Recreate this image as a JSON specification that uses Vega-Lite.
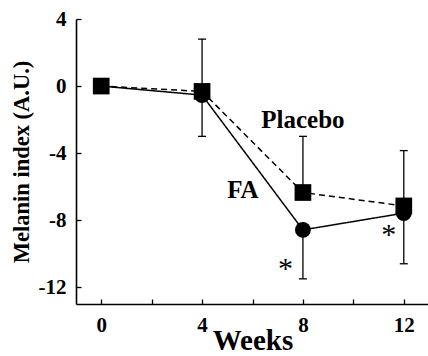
{
  "$schema": "https://vega.github.io/schema/vega-lite/v6.json",
  "width": 353,
  "height": 285,
  "autosize": "none",
  "padding": {"left": 76, "top": 19, "right": 0, "bottom": 52},
  "background": "white",
  "config": {
    "view": {"stroke": null},
    "font": "Liberation Serif",
    "axis": {
      "grid": false,
      "domainColor": "black",
      "domainWidth": 1.6,
      "tickColor": "black",
      "tickWidth": 1.3,
      "tickSize": -5,
      "labelFont": "Liberation Serif",
      "labelFontWeight": "bold",
      "labelFontSize": 21,
      "labelColor": "black",
      "titleFont": "Liberation Serif",
      "titleFontWeight": "bold",
      "titleColor": "black"
    },
    "axisX": {"labelPadding": 15, "titleFontSize": 29, "titlePadding": -9},
    "axisY": {"labelPadding": 15, "titleFontSize": 22.5, "titlePadding": 5}
  },
  "datasets": {
    "series": [
      {"week": 0, "value": 0, "group": "FA"},
      {"week": 4, "value": -0.54, "group": "FA"},
      {"week": 8, "value": -8.58, "group": "FA"},
      {"week": 12, "value": -7.58, "group": "FA"},
      {"week": 0, "value": 0, "group": "Placebo"},
      {"week": 4, "value": -0.32, "group": "Placebo"},
      {"week": 8, "value": -6.35, "group": "Placebo"},
      {"week": 12, "value": -7.15, "group": "Placebo"}
    ],
    "errors": [
      {"week": 4, "lo": -3.0, "hi": 2.8},
      {"week": 8, "lo": -6.35, "hi": -3.0},
      {"week": 8, "lo": -11.5, "hi": -8.58},
      {"week": 12, "lo": -7.15, "hi": -3.85},
      {"week": 12, "lo": -10.6, "hi": -7.58}
    ],
    "labels": [
      {"week": 8, "value": -2.51, "label": "Placebo"},
      {"week": 5.62, "value": -6.69, "label": "FA"}
    ],
    "stars": [
      {"week": 7.31, "value": -11.45, "label": "*"},
      {"week": 11.4, "value": -9.45, "label": "*"}
    ]
  },
  "layer": [
    {
      "data": {"name": "series"},
      "mark": {"type": "line", "color": "black", "strokeWidth": 1.5},
      "encoding": {
        "x": {
          "field": "week", "type": "quantitative", "title": "Weeks",
          "scale": {"domain": [-1, 13], "nice": false, "zero": false},
          "axis": {"values": [0, 2, 4, 6, 8, 10, 12], "labelExpr": "datum.value % 4 == 0 ? '' + datum.value : ''"}
        },
        "y": {
          "field": "value", "type": "quantitative", "title": "Melanin index (A.U.)",
          "scale": {"domain": [-13, 4], "nice": false, "zero": false},
          "axis": {"values": [-12, -10, -8, -6, -4, -2, 0, 2, 4], "labelExpr": "datum.value % 4 == 0 ? '' + datum.value : ''"}
        },
        "detail": {"field": "group"},
        "strokeDash": {
          "field": "group", "type": "nominal", "legend": null,
          "scale": {"domain": ["FA", "Placebo"], "range": [[1, 0], [6, 4]]}
        }
      }
    },
    {
      "data": {"name": "errors"},
      "mark": {"type": "rule", "color": "black", "strokeWidth": 1.3},
      "encoding": {
        "x": {"field": "week", "type": "quantitative", "title": "Weeks"},
        "y": {"field": "lo", "type": "quantitative", "title": "Melanin index (A.U.)"},
        "y2": {"field": "hi"}
      }
    },
    {
      "data": {"name": "errors"},
      "mark": {"type": "tick", "orient": "horizontal", "color": "black", "size": 8, "thickness": 1.3, "opacity": 1},
      "encoding": {
        "x": {"field": "week", "type": "quantitative", "title": "Weeks"},
        "y": {"field": "lo", "type": "quantitative", "title": "Melanin index (A.U.)"}
      }
    },
    {
      "data": {"name": "errors"},
      "mark": {"type": "tick", "orient": "horizontal", "color": "black", "size": 8, "thickness": 1.3, "opacity": 1},
      "encoding": {
        "x": {"field": "week", "type": "quantitative", "title": "Weeks"},
        "y": {"field": "hi", "type": "quantitative", "title": "Melanin index (A.U.)"}
      }
    },
    {
      "data": {"name": "series"},
      "transform": [{"filter": "datum.group == 'Placebo'"}],
      "mark": {"type": "square", "color": "black", "size": 279, "opacity": 1},
      "encoding": {
        "x": {"field": "week", "type": "quantitative", "title": "Weeks"},
        "y": {"field": "value", "type": "quantitative", "title": "Melanin index (A.U.)"}
      }
    },
    {
      "data": {"name": "series"},
      "transform": [{"filter": "datum.group == 'FA'"}],
      "mark": {"type": "circle", "color": "black", "size": 250, "opacity": 1},
      "encoding": {
        "x": {"field": "week", "type": "quantitative", "title": "Weeks"},
        "y": {"field": "value", "type": "quantitative", "title": "Melanin index (A.U.)"}
      }
    },
    {
      "data": {"name": "labels"},
      "mark": {"type": "text", "font": "Liberation Serif", "fontWeight": "bold", "fontSize": 25, "color": "black", "align": "center", "baseline": "alphabetic"},
      "encoding": {
        "x": {"field": "week", "type": "quantitative", "title": "Weeks"},
        "y": {"field": "value", "type": "quantitative", "title": "Melanin index (A.U.)"},
        "text": {"field": "label"}
      }
    },
    {
      "data": {"name": "stars"},
      "mark": {"type": "text", "font": "Liberation Serif", "fontSize": 30, "color": "black", "align": "center", "baseline": "alphabetic"},
      "encoding": {
        "x": {"field": "week", "type": "quantitative", "title": "Weeks"},
        "y": {"field": "value", "type": "quantitative", "title": "Melanin index (A.U.)"},
        "text": {"field": "label"}
      }
    }
  ]
}
